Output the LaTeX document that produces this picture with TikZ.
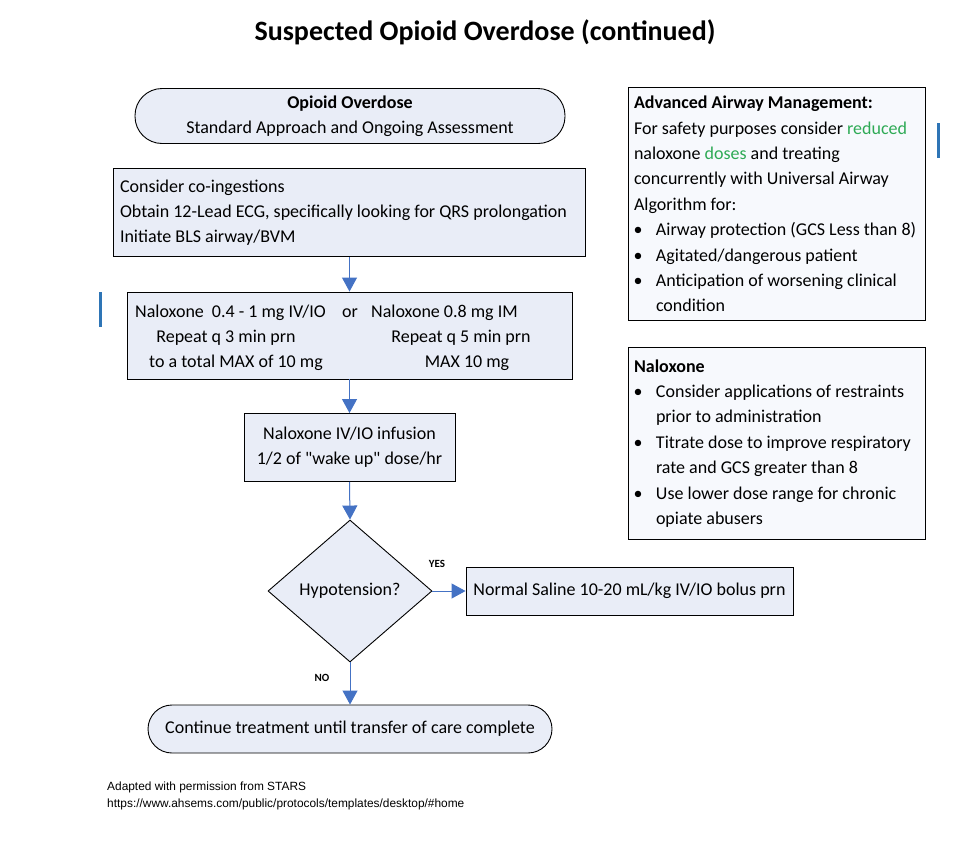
\documentclass[tikz,border=0pt]{standalone}
\usepackage{fontspec}
\setmainfont{Carlito}
\newfontfamily\arialfont{Liberation Sans}
\usetikzlibrary{shapes.geometric,arrows.meta}
\definecolor{boxfill}{HTML}{E9EDF7}
\definecolor{sidefill}{HTML}{F7F9FD}
\definecolor{arrowblue}{HTML}{4472C4}
\definecolor{barblue}{HTML}{2E75B6}
\definecolor{greentext}{HTML}{2EAA55}
\newcommand{\bul}{\makebox[22pt][l]{\hspace{-0.5pt}•}}
\newcommand{\ind}{\hspace*{22pt}}
\newcommand{\nsp}{\spaceskip=0pt\xspaceskip=0pt\relax}
\begin{document}
\begin{tikzpicture}[x=1pt,y=-1pt,
  box/.style={draw=black, fill=boxfill, line width=0.9pt, inner sep=0pt},
  sidebox/.style={draw=black, fill=sidefill, line width=0.9pt, inner xsep=6pt, inner ysep=0pt, align=left,
    minimum width=297pt, text width=285pt, font=\fontsize{18}{25.4}\selectfont},
  flow/.style={draw=arrowblue, line width=1pt, -{Triangle[length=14pt,width=15pt]}},
  txt/.style={font=\fontsize{18}{25}\selectfont, inner sep=0pt},
  small/.style={font=\fontsize{11}{12}\selectfont\bfseries, inner sep=0pt},
  foot/.style={font=\arialfont\fontsize{11.9}{12}\selectfont, inner sep=0pt, anchor=base west},
  bar/.style={draw=barblue, line width=3pt}
]
\useasboundingbox (0,0) rectangle (968,846);

\node[font=\fontsize{28}{32}\selectfont\bfseries, inner sep=0pt] (title) at (485,32) {Suspected Opioid Overdose (continued)};

\node[box, rounded corners=27pt, minimum width=430pt, minimum height=55pt, align=center, txt] (term1) at (350,116)
  {\nsp\textbf{Opioid Overdose}\\Standard Approach and Ongoing Assessment};

\node[box, minimum width=472pt, minimum height=88pt, text width=458pt, align=left, txt] (cons) at (349,212.5)
  {\nsp Consider co-ingestions\\Obtain 12-Lead ECG, specifically looking for QRS prolongation\\Initiate BLS airway/BVM};

\node[box, minimum width=445pt, minimum height=87pt] (nal) at (349.5,335.5) {};
\node[txt, anchor=base west] (n1) at (135,317) {Naloxone\hspace{4pt} 0.4 - 1 mg IV/IO};
\node[txt, anchor=base] (nor) at (350,317) {or};
\node[txt, anchor=base west] (n2) at (371,317) {Naloxone 0.8 mg IM};
\node[txt, anchor=base] (n3) at (226,342) {Repeat q 3 min prn};
\node[txt, anchor=base] (n4) at (461,342) {Repeat q 5 min prn};
\node[txt, anchor=base] (n5) at (236,367) {to a total MAX of 10 mg};
\node[txt, anchor=base] (n6) at (467,367) {MAX 10 mg};

\node[box, minimum width=211pt, minimum height=68pt, align=center, txt] (inf) at (349.5,447.5)
  {\nsp Naloxone IV/IO infusion\\1/2 of \textquotedbl wake up\textquotedbl\ dose/hr};

\node[box, diamond, minimum width=164pt, minimum height=142pt, txt] (dia) at (350,591) {Hypotension?};

\node[box, minimum width=327pt, minimum height=48pt, txt] (sal) at (629.5,591) {Normal Saline 10-20 mL/kg IV/IO bolus prn};

\node[box, rounded corners=24pt, minimum width=404pt, minimum height=48pt, txt] (term2) at (350,729)
  {Continue treatment until transfer of care complete};

\node[sidebox, minimum height=233pt] (side1) at (776.5,204)
  {\nsp\textbf{Advanced Airway Management:}\\
   For safety purposes consider \textcolor{greentext}{reduced}\\
   naloxone \textcolor{greentext}{doses} and treating\\
   concurrently with Universal Airway\\
   Algorithm for:\\
   \bul Airway protection (GCS Less than 8)\\
   \bul Agitated/dangerous patient\\
   \bul Anticipation of worsening clinical\\
   \ind condition};

\node[sidebox, minimum height=192pt] (side2) at (776.5,443.5)
  {\nsp\textbf{Naloxone}\\
   \bul Consider applications of restraints\\
   \ind prior to administration\\
   \bul Titrate dose to improve respiratory\\
   \ind rate and GCS greater than 8\\
   \bul Use lower dose range for chronic\\
   \ind opiate abusers};

\draw[flow] (cons.south -| nal.north) -- (nal.north);
\draw[flow] (nal.south) -- (inf.north);
\draw[flow] (inf.south) -- (dia.north);
\draw[flow] (dia.east) -- (sal.west);
\draw[flow] (dia.south) -- (term2.north -| dia.south);

\node[small] (yes) at (437,564) {YES};
\node[small] (no) at (322,678) {NO};

\coordinate (b1a) at (100,292); \coordinate (b1b) at (100,327);
\coordinate (b2a) at (938,123); \coordinate (b2b) at (938,158);
\draw[bar] (b1a) -- (b1b);
\draw[bar] (b2a) -- (b2b);

\node[foot] (f1) at (107,790) {Adapted with permission from STARS};
\node[foot] (f2) at (107,807) {https://www.ahsems.com/public/protocols/templates/desktop/\#home};
\end{tikzpicture}
\end{document}
